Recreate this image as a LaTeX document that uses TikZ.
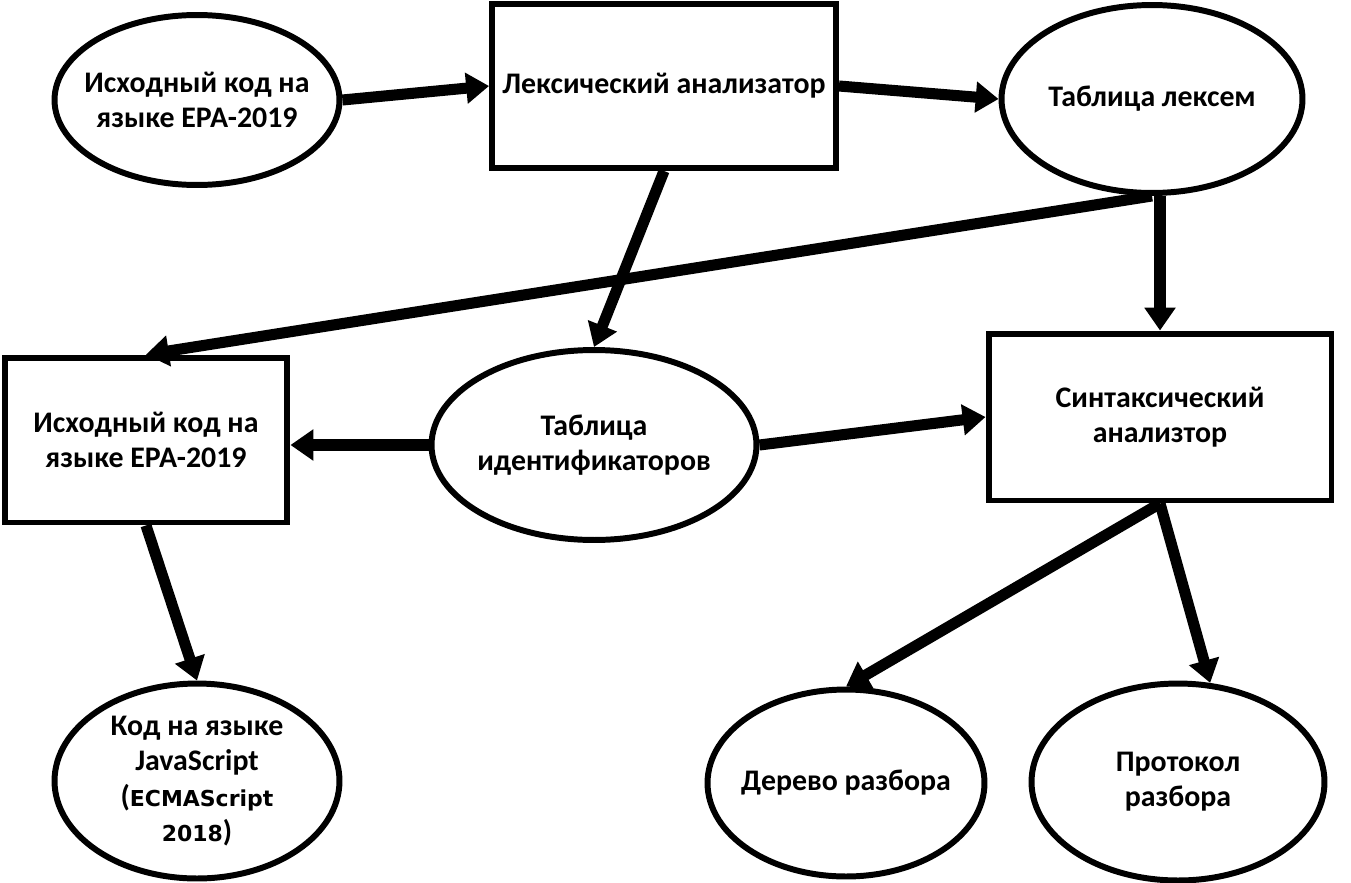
\documentclass[tikz,border=0pt]{standalone}
\usepackage{fontspec}
\setmainfont{Carlito}
\newfontfamily\verdfont{DejaVu Sans}
\usetikzlibrary{shapes.geometric,arrows.meta}

\begin{document}
\begin{tikzpicture}[x=0.02cm,y=-0.02cm,
        txt/.style={align=center,inner sep=0pt,font=\bfseries\fontsize{17}{20}\selectfont},
        box/.style={draw,line width=3.4pt,txt,rectangle,minimum width=#1},
        oval/.style={draw,line width=3.4pt,ellipse,minimum width=#1},
        flow/.style={line width=6.3pt,-{Triangle[length=13pt,width=17pt]}}]
        \useasboundingbox (0,0) rectangle (1351,882);
        % upper row
        \node[oval=5.7cm,minimum height=3.4cm,label={[txt]center:Исходный код на\\языке ЕРА-2019}] (src) at (197,100) {};
        \node[box=6.88cm,minimum height=3.28cm] (lex) at (664,86) {Лексический анализатор};
        \node[oval=6.02cm,minimum height=3.76cm,label={[txt]center:Таблица лексем}] (tablex) at (1152,99) {};
        % middle row
        \node[box=5.66cm,minimum height=3.3cm] (src2) at (146,440) {Исходный код на\\языке ЕРА-2019};
        \node[oval=6.5cm,minimum height=3.8cm,label={[txt]center:Таблица\\идентификаторов}] (tabid) at (594,445) {};
        \node[box=6.86cm,minimum height=3.34cm] (synt) at (1160,417) {Синтаксический\\анализтор};
        % lower row
        \node[oval=5.7cm,minimum height=3.9cm,label={[txt]center:Код на языке\\JavaScript\\
            ({\verdfont\fontsize{12.5}{20}\selectfont ECMAScript}\\{\verdfont\fontsize{12.5}{20}\selectfont 2018})}] (js) at (197,781) {};
        \node[oval=5.54cm,minimum height=3.74cm,label={[txt]center:Дерево разбора}] (tree) at (846,783) {};
        \node[oval=5.86cm,minimum height=3.94cm,label={[txt]center:Протокол\\разбора}] (proto) at (1178,782) {};
        % connectors
        \draw[flow] (src.east) -- (lex.west);
        \draw[flow] (lex.east) -- (tablex.west);
        \draw[flow] (lex.south) -- (tabid.north);
        \draw[flow] (tablex.south) -- (src2.north);
        \draw[flow] (synt.north |- tablex.south) -- (synt.north);
        \draw[flow] (tabid.west) -- (tabid.west -| src2.east);
        \draw[flow] (tabid.east) -- (synt.west);
        \draw[flow] (src2.south) -- (js.north);
        \draw[flow] (synt.south) -- (tree.north);
        \draw[flow] (synt.south) -- (proto.72);
\end{tikzpicture}
\end{document}
